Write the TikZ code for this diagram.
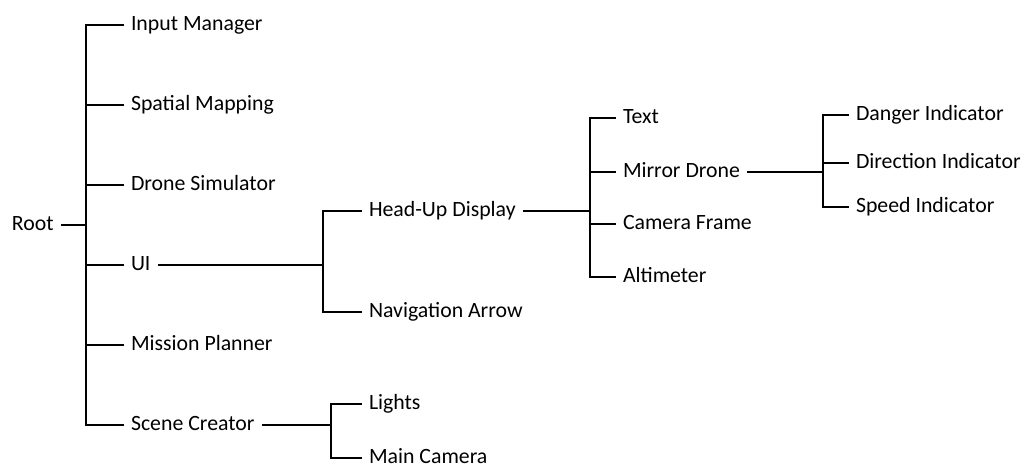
\documentclass[tikz,border=0pt]{standalone}
\usepackage{fontspec}
\setmainfont{Carlito}
\begin{document}
\begin{tikzpicture}[x=1pt,y=-1pt,
  item/.style={anchor=west, inner xsep=7.5pt, inner ysep=0pt, outer sep=0pt,
    text height=14pt, text depth=4pt, font=\fontsize{21.8}{26}\selectfont},
  link/.style={line width=1.8pt, black}]
\useasboundingbox (0,0) rectangle (1023,466);
% nodes
\node[item] (root) at (4.5,225) {Root};
\node[item] (input) at (123.5,25) {Input Manager};
\node[item] (spatial) at (123.5,105) {Spatial Mapping};
\node[item] (drone) at (123.5,185) {Drone Simulator};
\node[item] (ui) at (123.5,265) {UI};
\node[item] (mission) at (123.5,345) {Mission Planner};
\node[item] (scene) at (123.5,425) {Scene Creator};
\node[item] (hud) at (361.5,211) {Head-Up Display};
\node[item] (nav) at (361.5,312) {Navigation Arrow};
\node[item] (text) at (615.5,118) {Text};
\node[item] (mirror) at (615.5,172) {Mirror Drone};
\node[item] (camframe) at (615.5,224) {Camera Frame};
\node[item] (alt) at (615.5,277) {Altimeter};
\node[item] (danger) at (848.5,115) {Danger Indicator};
\node[item] (direction) at (848.5,163) {Direction Indicator};
\node[item] (speed) at (848.5,207) {Speed Indicator};
\node[item] (lights) at (361.5,404) {Lights};
\node[item] (maincam) at (361.5,458) {Main Camera};
% junctions
\coordinate (j0) at (86,225);
\coordinate (jui) at (323,265);
\coordinate (jhud) at (590,211);
\coordinate (jmd) at (823,172);
\coordinate (jsc) at (331,425);
% connectors
\draw[link] (root.east) -- (j0);
\foreach \c in {input,spatial,drone,ui,mission,scene} \draw[link] (j0) |- (\c.west);
\draw[link] (ui.east) -- (jui);
\foreach \c in {hud,nav} \draw[link] (jui) |- (\c.west);
\draw[link] (hud.east) -- (jhud);
\foreach \c in {text,mirror,camframe,alt} \draw[link] (jhud) |- (\c.west);
\draw[link] (mirror.east) -- (jmd);
\foreach \c in {danger,direction,speed} \draw[link] (jmd) |- (\c.west);
\draw[link] (scene.east) -- (jsc);
\foreach \c in {lights,maincam} \draw[link] (jsc) |- (\c.west);
\end{tikzpicture}
\end{document}
